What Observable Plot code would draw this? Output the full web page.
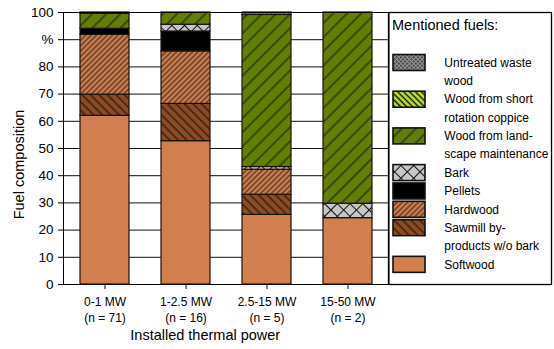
<!DOCTYPE html>
<html>
<head>
<meta charset="utf-8">
<script src="https://cdn.jsdelivr.net/npm/d3@7"></script>
<script src="https://cdn.jsdelivr.net/npm/@observablehq/plot@0.6"></script>
<style>
  body { margin: 0; background: #fff; }
  #chart { position: relative; width: 554px; height: 349px; font-family: "Liberation Sans", Arial, sans-serif; }
  #chart svg { position: absolute; left: 0; top: 0; }
</style>
</head>
<body>
<div id="chart"></div>
<script>
// Installed thermal power classes and number of plants per class
const powerClasses = ["0-1 MW", "1-2.5 MW", "2.5-15 MW", "15-50 MW"];
const sampleSizes = [71, 16, 5, 2];

// Fuel types, in stacking order (bottom to top)
const fuels = [
  "Softwood",
  "Sawmill by-products w/o bark",
  "Hardwood",
  "Pellets",
  "Bark",
  "Wood from landscape maintenance",
  "Wood from short rotation coppice",
  "Untreated waste wood"
];

// Share of each fuel (%) per power class
const softwood  = [62.0, 52.7, 25.6, 24.4];
const sawmill   = [7.8, 13.7, 7.4, 0];
const hardwood  = [22.0, 19.3, 9.2, 0];
const pellets   = [2.2, 7.3, 0, 0];
const bark      = [0, 2.5, 1.0, 5.3];
const landscape = [5.5, 4.5, 55.9, 70.3];
const coppice   = [0, 0, 0, 0];
const wasteWood = [0.5, 0, 0.9, 0];

const yTicks = d3.range(0, 101, 10);

// Legend entries, top to bottom, with their wrapped lines
const legendEntries = [
  ["Untreated waste wood", ["Untreated waste", "wood"]],
  ["Wood from short rotation coppice", ["Wood from short", "rotation coppice"]],
  ["Wood from landscape maintenance", ["Wood from land-", "scape maintenance"]],
  ["Bark", ["Bark"]],
  ["Pellets", ["Pellets"]],
  ["Hardwood", ["Hardwood"]],
  ["Sawmill by-products w/o bark", ["Sawmill by-", "products w/o bark"]],
  ["Softwood", ["Softwood"]]
];

const series = [softwood, sawmill, hardwood, pellets, bark, landscape, coppice, wasteWood];
const rows = [];
powerClasses.forEach((p, i) => {
  fuels.forEach((f, j) => {
    if (series[j][i] > 0) rows.push({power: p, fuel: f, value: series[j][i]});
  });
});

const patternIds = ["softwood", "sawmill", "hardwood", "pellets", "bark", "landscape", "coppice", "waste"];
const fills = patternIds.map(id => `url(#p-${id})`);

const chart = document.getElementById("chart");

// Pattern definitions + legend layer
const W = 554, H = 349;
const legendSvg = d3.create("svg").attr("width", W).attr("height", H)
  .style("pointer-events", "none")
  .attr("font-family", "Liberation Sans, Arial, sans-serif");

const defs = legendSvg.append("defs");
function hatch(id, bg, size, angle, strokeW, stroke, cross) {
  const p = defs.append("pattern").attr("id", id)
    .attr("patternUnits", "userSpaceOnUse")
    .attr("width", size).attr("height", size)
    .attr("patternTransform", `rotate(${angle})`);
  p.append("rect").attr("width", size).attr("height", size).attr("fill", bg);
  p.append("line").attr("x1", size / 2).attr("x2", size / 2).attr("y1", 0).attr("y2", size)
    .attr("stroke", stroke).attr("stroke-width", strokeW);
  if (cross) {
    p.append("line").attr("y1", size / 2).attr("y2", size / 2).attr("x1", 0).attr("x2", size)
      .attr("stroke", stroke).attr("stroke-width", strokeW);
  }
}
function solid(id, color) {
  const p = defs.append("pattern").attr("id", id)
    .attr("patternUnits", "userSpaceOnUse").attr("width", 4).attr("height", 4);
  p.append("rect").attr("width", 4).attr("height", 4).attr("fill", color);
}
solid("p-softwood", "#D27F4F");
hatch("p-sawmill", "#8E4A22", 6, -45, 1.1, "#111", false);
hatch("p-hardwood", "#D27F4F", 3.8, 45, 0.9, "#111", false);
solid("p-pellets", "#000");
hatch("p-bark", "#C6C6C6", 9, 45, 1, "#111", true);
hatch("p-landscape", "#628000", 10, 45, 1, "#111", false);
hatch("p-coppice", "#B8E61E", 4.2, -45, 1.4, "#111", false);
hatch("p-waste", "#4A4A4A", 3, 45, 0.9, "#9A9A9A", true);

// Legend box
const lg = legendSvg.append("g");
lg.append("rect").attr("x", 388.5).attr("y", 12.5).attr("width", 163).attr("height", 272)
  .attr("fill", "#fff").attr("stroke", "#000").attr("stroke-width", 1.3);
lg.append("text").attr("x", 392).attr("y", 25).attr("dy", "0.35em")
  .attr("font-size", 14.5).attr("fill", "#000").text("Mentioned fuels:");

const rowPitch = 18.35, firstRow = 62.5;
let row = 0;
legendEntries.forEach(([fuel, lines]) => {
  const cy = firstRow + rowPitch * row;
  const j = fuels.indexOf(fuel);
  lg.append("rect").attr("x", 393).attr("y", cy - 8).attr("width", 32).attr("height", 16)
    .attr("fill", fills[j]).attr("stroke", "#111").attr("stroke-width", 1.6);
  lines.forEach((t, k) => {
    lg.append("text").attr("x", 444.3).attr("y", cy + rowPitch * k).attr("dy", "0.35em")
      .attr("font-size", 12).attr("fill", "#000").text(t);
  });
  row += lines.length;
});

chart.appendChild(legendSvg.node());

const plot = Plot.plot({
  width: 390,
  height: H,
  marginLeft: 63,
  marginRight: 1.5,
  marginTop: 12,
  marginBottom: 65,
  style: {fontFamily: "Liberation Sans, Arial, sans-serif", color: "#000", background: "transparent"},
  x: {domain: powerClasses, paddingInner: 0.39, paddingOuter: 0.195, label: null},
  y: {domain: [0, 100], label: null},
  color: {domain: fuels, range: fills},
  marks: [
    Plot.gridY(yTicks, {stroke: "#111", strokeOpacity: 1, strokeWidth: 1}),
    Plot.barY(rows, Plot.stackY({
      x: "power", y: "value", fill: "fuel", z: "fuel", order: fuels,
      stroke: "#1a120c", strokeWidth: 1.2
    })),
    Plot.frame({stroke: "#000", strokeWidth: 1}),
    Plot.axisY(yTicks, {
      tickSize: 5, tickPadding: 5, fontSize: 13.5,
      tickFormat: d => d === 90 ? "%" : String(d)
    }),
    Plot.axisX({
      tickSize: 5, tickPadding: 5, fontSize: 12, lineHeight: 1.33,
      tickFormat: (d) => `${d}\n(n = ${sampleSizes[powerClasses.indexOf(d)]})`
    }),
    Plot.text(["Installed thermal power"], {
      frameAnchor: "bottom", dx: -21, dy: 55, fontSize: 14.5, fill: "#000"
    }),
    Plot.text(["Fuel composition"], {
      frameAnchor: "left", textAnchor: "middle", rotate: -90,
      dx: -44, dy: 16, fontSize: 14.5, fill: "#000"
    })
  ]
});

chart.appendChild(plot);
</script>
</body>
</html>
